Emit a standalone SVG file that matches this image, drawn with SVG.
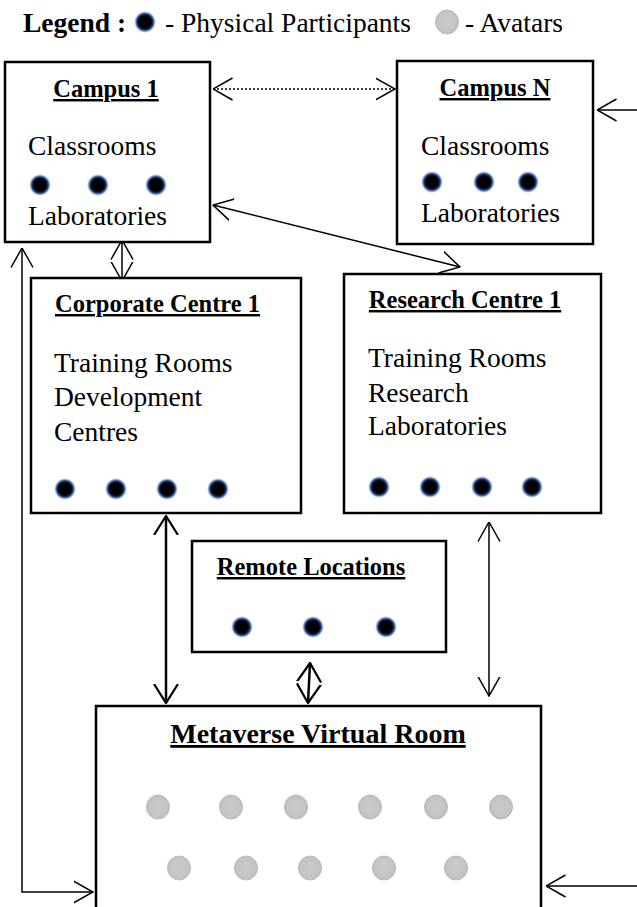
<svg xmlns="http://www.w3.org/2000/svg" width="637" height="907" viewBox="0 0 637 907">
  <style>
    text { font-family: "Liberation Serif", "Times New Roman", serif; fill: #000; }
    .body { font-size: 27.5px; }
    .title { font-size: 24.5px; font-weight: bold; text-decoration: underline; text-anchor: middle; }
    .big { font-size: 28px; }
    .box { fill: #fff; stroke: #000; stroke-width: 2.5; }
    .link { fill: none; stroke: #000; stroke-width: 1.5; }
    .thick { stroke-width: 2.5; }
    .dotted { stroke-dasharray: 2 2; }
  </style>
  <defs>
    <radialGradient id="person">
      <stop offset="0" stop-color="#000"/>
      <stop offset="0.55" stop-color="#000"/>
      <stop offset="0.75" stop-color="#1e4488"/>
      <stop offset="1" stop-color="#6a8cc8" stop-opacity="0"/>
    </radialGradient>
    <radialGradient id="avatar">
      <stop offset="0" stop-color="#cacaca"/>
      <stop offset="0.85" stop-color="#c4c4c4"/>
      <stop offset="1" stop-color="#b4b4b4"/>
    </radialGradient>
    <symbol id="p" overflow="visible"><circle r="11" fill="url(#person)"/></symbol>
    <symbol id="a" overflow="visible"><ellipse rx="11.5" ry="12" fill="url(#avatar)" stroke="#bdbdbd" stroke-width="1"/></symbol>
    <marker id="head" viewBox="0 0 20 24" refX="19.5" refY="12" markerWidth="20" markerHeight="24" markerUnits="userSpaceOnUse" orient="auto-start-reverse">
      <path d="M0,1 L19.5,12 L0,23" fill="none" stroke="#000" stroke-width="1.5"/>
    </marker>
    <marker id="headBold" viewBox="0 0 20 26" refX="19" refY="13" markerWidth="20" markerHeight="26" markerUnits="userSpaceOnUse" orient="auto-start-reverse">
      <path d="M0,1 L19,13 L0,25" fill="none" stroke="#000" stroke-width="2.2"/>
    </marker>
  </defs>

  <!-- legend -->
  <g id="legend">
    <text x="23" y="32" class="body" font-weight="bold">Legend :</text>
    <use href="#p" x="145" y="22"/>
    <text x="165" y="32" class="body">- Physical Participants</text>
    <use href="#a" x="447" y="22"/>
    <text x="465" y="32" class="body">- Avatars</text>
  </g>

  <!-- connectors -->
  <g id="connectors">
    <line class="link dotted" x1="213" y1="89" x2="395" y2="89" marker-start="url(#head)" marker-end="url(#head)"/>
    <line class="link" x1="637" y1="110" x2="597" y2="110" marker-end="url(#head)"/>
    <line class="link" x1="213" y1="205" x2="460" y2="267" marker-start="url(#head)" marker-end="url(#head)"/>
    <line class="link" x1="122" y1="240" x2="122" y2="281" marker-start="url(#head)" marker-end="url(#head)"/>
    <path class="link" d="M22,248 V892 H93" marker-start="url(#head)" marker-end="url(#head)"/>
    <line class="link thick" x1="166" y1="516" x2="166" y2="703" marker-start="url(#headBold)" marker-end="url(#headBold)"/>
    <line class="link thick" x1="310" y1="663" x2="308" y2="703" marker-start="url(#headBold)" marker-end="url(#headBold)"/>
    <line class="link" x1="489" y1="522" x2="489" y2="696" marker-start="url(#head)" marker-end="url(#head)"/>
    <line class="link" x1="637" y1="886" x2="546" y2="886" marker-end="url(#head)"/>
  </g>

  <!-- Campus 1 -->
  <g id="campus1">
    <rect class="box" x="5" y="62" width="205" height="180"/>
    <text x="106" y="97" class="title">Campus 1</text>
    <text x="28" y="155" class="body">Classrooms</text>
    <use href="#p" x="40" y="185"/>
    <use href="#p" x="98" y="185"/>
    <use href="#p" x="156" y="185"/>
    <text x="28" y="225" class="body">Laboratories</text>
  </g>

  <!-- Campus N -->
  <g id="campusN">
    <rect class="box" x="397" y="61" width="196" height="183"/>
    <text x="495" y="96" class="title">Campus N</text>
    <text x="421" y="155" class="body">Classrooms</text>
    <use href="#p" x="432" y="182"/>
    <use href="#p" x="484" y="182"/>
    <use href="#p" x="528" y="182"/>
    <text x="421" y="222" class="body">Laboratories</text>
  </g>

  <!-- Corporate Centre 1 -->
  <g id="corporate">
    <rect class="box" x="31" y="278" width="270" height="235"/>
    <text x="157.5" y="312" class="title">Corporate Centre 1</text>
    <text x="54" y="372" class="body">Training Rooms</text>
    <text x="54" y="406" class="body">Development</text>
    <text x="54" y="441" class="body">Centres</text>
    <use href="#p" x="65" y="489"/>
    <use href="#p" x="116" y="489"/>
    <use href="#p" x="167" y="489"/>
    <use href="#p" x="218" y="489"/>
  </g>

  <!-- Research Centre 1 -->
  <g id="research">
    <rect class="box" x="344" y="274" width="257" height="239"/>
    <text x="465" y="308" class="title">Research Centre 1</text>
    <text x="368" y="367" class="body">Training Rooms</text>
    <text x="368" y="402" class="body">Research</text>
    <text x="368" y="435" class="body">Laboratories</text>
    <use href="#p" x="379" y="487"/>
    <use href="#p" x="430" y="487"/>
    <use href="#p" x="482" y="487"/>
    <use href="#p" x="532" y="487"/>
  </g>

  <!-- Remote Locations -->
  <g id="remote">
    <rect class="box" x="192" y="541" width="254" height="111"/>
    <text x="311" y="575" class="title">Remote Locations</text>
    <use href="#p" x="242" y="627"/>
    <use href="#p" x="313" y="627"/>
    <use href="#p" x="386" y="627"/>
  </g>

  <!-- Metaverse Virtual Room (open at the bottom edge) -->
  <g id="metaverse">
    <path d="M96,912 V706 H541 V912" fill="#fff" stroke="#000" stroke-width="2.5"/>
    <text x="318" y="743" class="title big">Metaverse Virtual Room</text>
    <use href="#a" x="158" y="807"/>
    <use href="#a" x="231" y="807"/>
    <use href="#a" x="296" y="807"/>
    <use href="#a" x="370" y="807"/>
    <use href="#a" x="436" y="807"/>
    <use href="#a" x="501" y="807"/>
    <use href="#a" x="179" y="868"/>
    <use href="#a" x="246" y="868"/>
    <use href="#a" x="310" y="868"/>
    <use href="#a" x="384" y="868"/>
    <use href="#a" x="456" y="868"/>
  </g>
</svg>
